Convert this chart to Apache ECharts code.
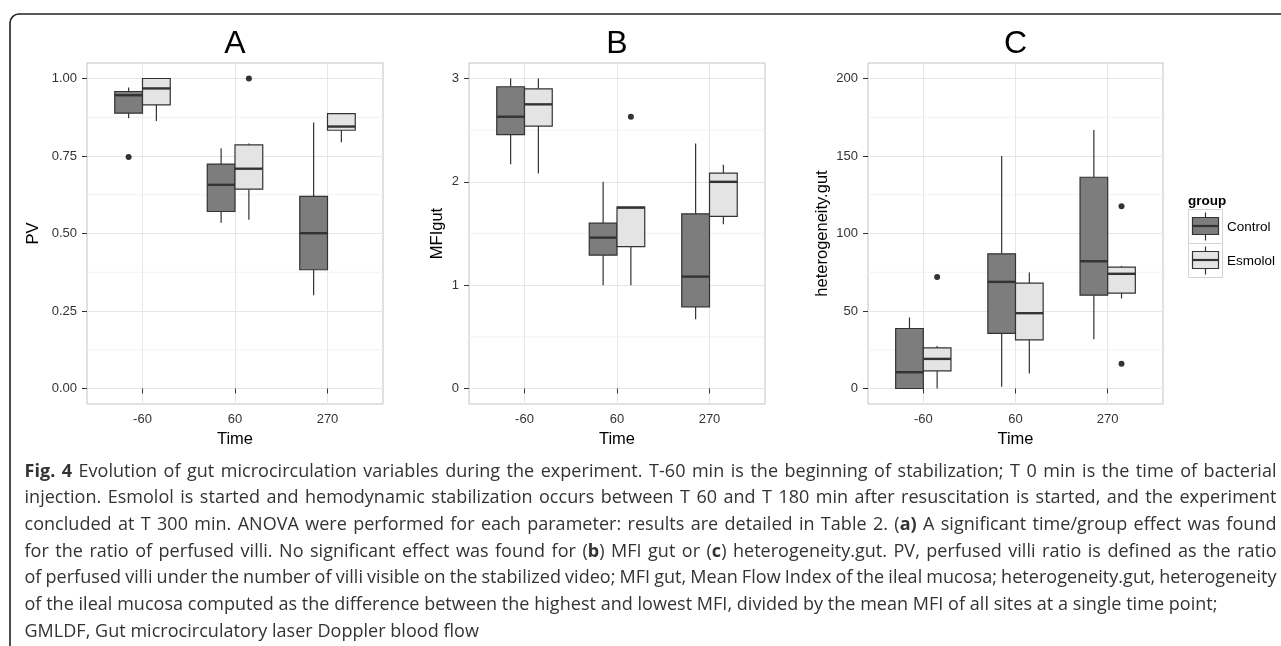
<!DOCTYPE html>
<html>
<head>
<meta charset="utf-8">
<title>Fig. 4</title>
<script src="https://cdn.jsdelivr.net/npm/echarts@6.0.0/dist/echarts.min.js"></script>
<style>
  html, body { margin: 0; padding: 0; background: #fff; }
  #wrap { position: relative; width: 1281px; height: 646px; overflow: hidden; }
  #chart { position: absolute; left: 0; top: 0; width: 1281px; height: 646px; }
  #caption { position: absolute; left: 24.5px; top: 456.5px; width: 1252px;
    font-family: "Open Sans", sans-serif; font-size: 18px; line-height: 26.7px; color: #333; }
  #caption div { white-space: nowrap; }
</style>
</head>
<body>
<div id="wrap">
  <div id="chart"></div>
  <div id="caption">
    <div class="j"><span><b>Fig. 4</b> Evolution of gut microcirculation variables during the experiment. T-60 min is the beginning of stabilization; T 0 min is the time of bacterial</span></div>
    <div class="j"><span>injection. Esmolol is started and hemodynamic stabilization occurs between T 60 and T 180 min after resuscitation is started, and the experiment</span></div>
    <div class="j"><span>concluded at T 300 min. ANOVA were performed for each parameter: results are detailed in Table 2. (<b>a)</b> A significant time/group effect was found</span></div>
    <div class="j"><span>for the ratio of perfused villi. No significant effect was found for (<b>b</b>) MFI gut or (<b>c</b>) heterogeneity.gut. PV, perfused villi ratio is defined as the ratio</span></div>
    <div class="j"><span>of perfused villi under the number of villi visible on the stabilized video; MFI gut, Mean Flow Index of the ileal mucosa; heterogeneity.gut, heterogeneity</span></div>
    <div id="ref"><span>of the ileal mucosa computed as the difference between the highest and lowest MFI, divided by the mean MFI of all sites at a single time point;</span></div>
    <div><span>GMLDF, Gut microcirculatory laser Doppler blood flow</span></div>
  </div>
</div>
<script>
// categories
const timeLabels = ['-60', '60', '270'];
const groupNames = ['Control', 'Esmolol'];

// box stats per time point: [lower whisker, Q1, median, Q3, upper whisker]
const pvControl  = [[0.872, 0.888, 0.946, 0.958, 0.971], [0.535, 0.571, 0.657, 0.724, 0.775], [0.301, 0.383, 0.501, 0.620, 0.858]];
const pvEsmolol  = [[0.863, 0.915, 0.968, 1.000, 1.000], [0.544, 0.643, 0.709, 0.786, 0.790], [0.794, 0.833, 0.845, 0.887, 0.887]];
const mfiControl = [[2.17, 2.456, 2.63, 2.92, 3.00], [1.00, 1.29, 1.46, 1.60, 2.00], [0.67, 0.79, 1.083, 1.69, 2.37]];
const mfiEsmolol = [[2.08, 2.54, 2.75, 2.90, 3.00], [1.00, 1.373, 1.75, 1.756, 1.756], [1.59, 1.666, 2.00, 2.085, 2.166]];
const hetControl = [[0, 0, 10.5, 38.7, 45.8], [1.1, 35.5, 68.8, 86.9, 150], [31.8, 60.2, 82.1, 136.3, 166.7]];
const hetEsmolol = [[0, 11.4, 19.1, 26.2, 27.5], [9.7, 31.4, 48.6, 68.0, 74.8], [58.1, 61.5, 74.0, 78.3, 79.1]];

// outliers: [time index, value]
const pvOutControl  = [[0, 0.747]];
const pvOutEsmolol  = [[1, 1.0]];
const mfiOutControl = [];
const mfiOutEsmolol = [[1, 2.63]];
const hetOutControl = [];
const hetOutEsmolol = [[0, 72.0], [2, 117.6], [2, 15.9]];

// tick labels
const pvTicks  = [0, 0.25, 0.5, 0.75, 1];
const mfiTicks = [0, 1, 2, 3];
const hetTicks = [0, 50, 100, 150, 200];
const pvMinor  = [0.125, 0.375, 0.625, 0.875];
const mfiMinor = [0.5, 1.5, 2.5];
const hetMinor = [25, 75, 125, 175];

const FONT = '"Liberation Sans", Arial, Helvetica, sans-serif';
const fills = ['#7d7d7d', '#e4e4e4'];
const HALF = 0.15;   // half box width, dodge offset

const panels = [
  { title: 'A', yName: 'PV', nameGap: 45, left: 87, width: 296, lim: [-0.05, 1.05], ticks: pvTicks, minor: pvMinor,
    fmt: v => v.toFixed(2), boxes: [pvControl, pvEsmolol], outs: [pvOutControl, pvOutEsmolol] },
  { title: 'B', yName: 'MFIgut', nameGap: 23, left: 469, width: 296, lim: [-0.15, 3.15], ticks: mfiTicks, minor: mfiMinor,
    fmt: v => String(v), boxes: [mfiControl, mfiEsmolol], outs: [mfiOutControl, mfiOutEsmolol] },
  { title: 'C', yName: 'heterogeneity.gut', nameGap: 37, left: 868, width: 295, lim: [-10, 210], ticks: hetTicks, minor: hetMinor,
    fmt: v => String(v), boxes: [hetControl, hetEsmolol], outs: [hetOutControl, hetOutEsmolol] }
];

function boxRenderer(fill) {
  return function (params, api) {
    const xc = api.value(0) + 1 + (api.value(1) === 0 ? -HALF : HALF);
    const x0 = api.coord([xc - HALF, 0])[0];
    const x1 = api.coord([xc + HALF, 0])[0];
    const lo = api.coord([xc, api.value(2)]);
    const q1 = api.coord([xc, api.value(3)]);
    const md = api.coord([xc, api.value(4)]);
    const q3 = api.coord([xc, api.value(5)]);
    const hi = api.coord([xc, api.value(6)]);
    const ink = '#333';
    return {
      type: 'group',
      children: [
        { type: 'line', shape: { x1: lo[0], y1: lo[1], x2: q1[0], y2: q1[1] }, style: { stroke: ink, lineWidth: 1.2 } },
        { type: 'line', shape: { x1: q3[0], y1: q3[1], x2: hi[0], y2: hi[1] }, style: { stroke: ink, lineWidth: 1.2 } },
        { type: 'rect', shape: { x: x0, y: q3[1], width: x1 - x0, height: q1[1] - q3[1] }, style: { fill: fill, stroke: ink, lineWidth: 1.2 } },
        { type: 'line', shape: { x1: x0, y1: md[1], x2: x1, y2: md[1] }, style: { stroke: ink, lineWidth: 2.4 } }
      ]
    };
  };
}

// minor horizontal grid line, drawn under the boxes
function minorRenderer(params, api) {
  const a = api.coord([0.4, api.value(0)]);
  const b = api.coord([3.6, api.value(0)]);
  return { type: 'line', shape: { x1: a[0], y1: a[1], x2: b[0], y2: b[1] },
    style: { stroke: '#f1f1f1', lineWidth: 1 } };
}

const grid = [], xAxis = [], yAxis = [], series = [], graphic = [];

panels.forEach((p, i) => {
  grid.push({ left: p.left, top: 63, width: p.width, height: 341, show: true,
    backgroundColor: '#fff', borderColor: '#c2c2c2', borderWidth: 1 });
  xAxis.push({
    type: 'value', gridIndex: i, min: 0.4, max: 3.6,
    name: 'Time', nameLocation: 'middle', nameGap: 25,
    nameTextStyle: { fontFamily: FONT, fontSize: 16.5, color: '#000' },
    axisLine: { show: false },
    axisTick: { show: true, length: 5, customValues: [1, 2, 3], lineStyle: { color: '#333', width: 1 } },
    axisLabel: { customValues: [1, 2, 3], formatter: v => timeLabels[Math.round(v) - 1], margin: 9,
      fontFamily: FONT, fontSize: 13, color: '#333' },
    splitLine: { show: true, lineStyle: { color: '#e6e6e6', width: 1 } }
  });
  yAxis.push({
    type: 'value', gridIndex: i, min: p.lim[0], max: p.lim[1],
    name: p.yName, nameLocation: 'middle', nameGap: p.nameGap, nameRotate: 90,
    nameTextStyle: { fontFamily: FONT, fontSize: 16.5, color: '#000' },
    axisLine: { show: false },
    axisTick: { show: true, length: 5, customValues: p.ticks, lineStyle: { color: '#333', width: 1 } },
    axisLabel: { customValues: p.ticks, formatter: p.fmt, margin: 10, fontFamily: FONT, fontSize: 13, color: '#333' },
    splitLine: { show: true, lineStyle: { color: '#e6e6e6', width: 1 } }
  });

  series.push({
    type: 'custom', xAxisIndex: i, yAxisIndex: i, z: 1, silent: true,
    renderItem: minorRenderer, encode: { y: 0 },
    data: p.minor.map(v => [v])
  });

  p.boxes.forEach((stats, g) => {
    series.push({
      type: 'custom', name: groupNames[g], xAxisIndex: i, yAxisIndex: i, z: 3,
      renderItem: boxRenderer(fills[g]),
      encode: { x: 0, y: [2, 3, 4, 5, 6] },
      data: stats.map((s, t) => [t, g].concat(s))
    });
    series.push({
      type: 'scatter', xAxisIndex: i, yAxisIndex: i, z: 4, symbolSize: 6,
      itemStyle: { color: '#000' },
      data: p.outs[g].map(o => [o[0] + 1 + (g === 0 ? -HALF : HALF), o[1]])
    });
  });

  graphic.push({ type: 'text', x: p.left + p.width / 2, y: 44,
    style: { text: p.title, font: '32px ' + FONT, fill: '#000', align: 'center', verticalAlign: 'middle' } });
});

// figure frame (top-left corner of the captioned box)
graphic.push({ type: 'rect', shape: { x: 10, y: 14, width: 1400, height: 900, r: 9 },
  style: { fill: 'none', stroke: '#222', lineWidth: 1.6 }, z: 100 });

// legend
graphic.push({ type: 'text', x: 1188, y: 201,
  style: { text: 'group', font: 'bold 13.5px ' + FONT, fill: '#000', verticalAlign: 'middle' } });
groupNames.forEach((name, g) => {
  const ky = 209.5 + g * 34;
  graphic.push({ type: 'rect', shape: { x: 1188.5, y: ky, width: 34, height: 34 },
    style: { fill: '#fff', stroke: '#d2d2d2', lineWidth: 1 } });
  graphic.push({ type: 'line', shape: { x1: 1205.5, y1: ky + 3, x2: 1205.5, y2: ky + 31 },
    style: { stroke: '#333', lineWidth: 1.2 } });
  graphic.push({ type: 'rect', shape: { x: 1192.5, y: ky + 8, width: 26, height: 17 },
    style: { fill: fills[g], stroke: '#333', lineWidth: 1.2 } });
  graphic.push({ type: 'line', shape: { x1: 1192.5, y1: ky + 16.5, x2: 1218.5, y2: ky + 16.5 },
    style: { stroke: '#333', lineWidth: 2.2 } });
  graphic.push({ type: 'text', x: 1227, y: ky + 18,
    style: { text: name, font: '13.5px ' + FONT, fill: '#000', verticalAlign: 'middle' } });
});

const chart = echarts.init(document.getElementById('chart'), null, { renderer: 'canvas' });
chart.setOption({
  animation: false,
  backgroundColor: '#fff',
  grid: grid,
  xAxis: xAxis,
  yAxis: yAxis,
  series: series,
  graphic: graphic
});

// caption: tighten letters so the unjustified line keeps its width, then justify the others
function layoutCaption() {
  const cap = document.getElementById('caption');
  const W = cap.clientWidth;
  const refSpan = document.querySelector('#ref span');
  cap.style.letterSpacing = '0px';
  const w6 = refSpan.getBoundingClientRect().width;
  const ls = (1193 - w6) / refSpan.textContent.length;
  cap.style.letterSpacing = ls + 'px';
  document.querySelectorAll('#caption div.j').forEach(d => {
    const span = d.firstElementChild;
    span.style.wordSpacing = '0px';
    const w = span.getBoundingClientRect().width;
    const n = (span.textContent.match(/ /g) || []).length;
    if (n > 0) span.style.wordSpacing = ((W - w) / n) + 'px';
  });
}
layoutCaption();
if (document.fonts && document.fonts.ready) document.fonts.ready.then(layoutCaption);
</script>
</body>
</html>
